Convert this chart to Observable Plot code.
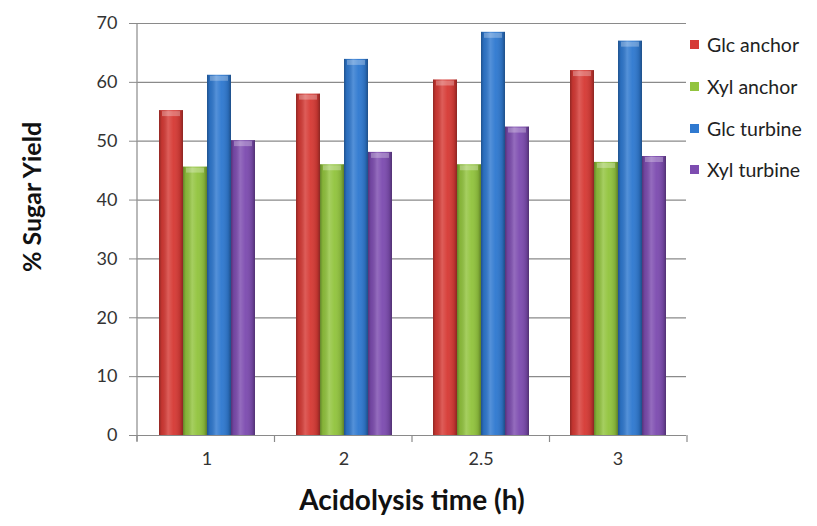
<!DOCTYPE html>
<html>
<head>
<meta charset="utf-8">
<script src="https://cdn.jsdelivr.net/npm/d3@7"></script>
<script src="https://cdn.jsdelivr.net/npm/@observablehq/plot@0.6"></script>
<style>
  html, body { margin: 0; padding: 0; background: #fff; }
  #wrap { position: relative; width: 817px; height: 526px; font-family: Lato, "Open Sans", sans-serif; }
  #legend { position: absolute; left: 690px; top: 24px; }
  .row { display: flex; align-items: center; height: 41.7px; font-size: 19.5px; color: #222; }
  .sw { width: 9px; height: 9px; margin-right: 8px; }
</style>
</head>
<body>
<div id="wrap"></div>
<script>
const categories = ["1", "2", "2.5", "3"];
const series = ["Glc anchor", "Xyl anchor", "Glc turbine", "Xyl turbine"];
const glcAnchor = [55.2, 58.0, 60.4, 62.0];
const xylAnchor = [45.6, 46.0, 46.0, 46.4];
const glcTurbine = [61.2, 63.9, 68.5, 67.0];
const xylTurbine = [50.1, 48.1, 52.4, 47.4];
const yTicks = [0, 10, 20, 30, 40, 50, 60, 70];
const colors = ["#d63a35", "#92c43e", "#2f79d0", "#7d4cb0"];
const xTitle = "Acidolysis time (h)";
const yTitle = "% Sugar Yield";

const valuesBySeries = [glcAnchor, xylAnchor, glcTurbine, xylTurbine];
const data = categories.flatMap((c, i) =>
  series.map((s, j) => ({ time: c, series: s, value: valuesBySeries[j][i] }))
);

const plot = Plot.plot({
  width: 817,
  height: 526,
  marginLeft: 137,
  marginRight: 130,
  marginTop: 23,
  marginBottom: 91,
  style: { fontFamily: "Lato, 'Open Sans', sans-serif", fontSize: "18px", color: "#333", background: "#fff" },
  fx: { domain: categories, padding: 0, label: null },
  x: { domain: series, paddingInner: 0, paddingOuter: 0.75, axis: null },
  y: { domain: [0, 70], label: null },
  color: { domain: series, range: colors },
  marks: [
    Plot.gridY(yTicks, { stroke: "#8a8a8a", strokeOpacity: 1, strokeWidth: 1.2 }),
    Plot.axisY(yTicks, { tickSize: 9, tickPadding: 12, stroke: "#8a8a8a", fill: "#333", label: null }),
    Plot.axisFx({ anchor: "bottom", tickSize: 0, tickPadding: 17, label: null, fill: "#333" }),
    Plot.barY(data, { fx: "time", x: "series", y: "value", fill: "series" }),
    Plot.barY(data, { fx: "time", x: "series", y: "value", fill: "url(#shine)" }),
    Plot.tickY(data, { fx: "time", x: "series", y: "value", stroke: "#fff", strokeOpacity: 0.28, strokeWidth: 5, dy: 3, insetLeft: 3, insetRight: 3 }),
    Plot.ruleY([0], { stroke: "#8a8a8a", strokeWidth: 1.2 })
  ]
});

const svg = d3.select(plot);
const grad = svg.append("defs").append("linearGradient")
  .attr("id", "shine").attr("x1", 0).attr("x2", 1).attr("y1", 0).attr("y2", 0);
[[0, "#000", 0.32], [0.12, "#000", 0.08], [0.38, "#fff", 0.18], [0.6, "#fff", 0.04], [0.88, "#000", 0.12], [1, "#000", 0.35]]
  .forEach(([o, c, a]) => grad.append("stop").attr("offset", o).attr("stop-color", c).attr("stop-opacity", a));

// y axis line and category boundary ticks, from the plot's own scales
const fx = plot.scale("fx");
const y = plot.scale("y");
const y0 = y.apply(0), yTop = y.apply(70);
const left = fx.range[0], right = fx.range[1];
const step = (right - left) / categories.length;
const g = svg.append("g").attr("stroke", "#8a8a8a").attr("stroke-width", 1.2);
g.append("line").attr("x1", left).attr("x2", left).attr("y1", yTop).attr("y2", y0 + 6);
const bounds = categories.map((c, i) => left + i * step).concat([right]);
bounds.forEach(b => g.append("line").attr("x1", b).attr("x2", b).attr("y1", y0).attr("y2", y0 + 7));

// axis titles
const plotCenterX = (left + right) / 2;
svg.append("text").text(xTitle)
  .attr("x", plotCenterX).attr("y", 510)
  .attr("text-anchor", "middle").attr("font-weight", "bold").attr("font-size", 28).attr("fill", "#111");
svg.append("text").text(yTitle)
  .attr("transform", `translate(41, 197) rotate(-90)`)
  .attr("text-anchor", "middle").attr("font-weight", "bold").attr("font-size", 25).attr("fill", "#111");

const wrap = document.getElementById("wrap");
wrap.appendChild(plot);

const legend = document.createElement("div");
legend.id = "legend";
series.forEach((s, i) => {
  const row = document.createElement("div");
  row.className = "row";
  const sw = document.createElement("span");
  sw.className = "sw";
  sw.style.background = colors[i];
  row.appendChild(sw);
  row.appendChild(document.createTextNode(s));
  legend.appendChild(row);
});
wrap.appendChild(legend);
</script>
</body>
</html>
